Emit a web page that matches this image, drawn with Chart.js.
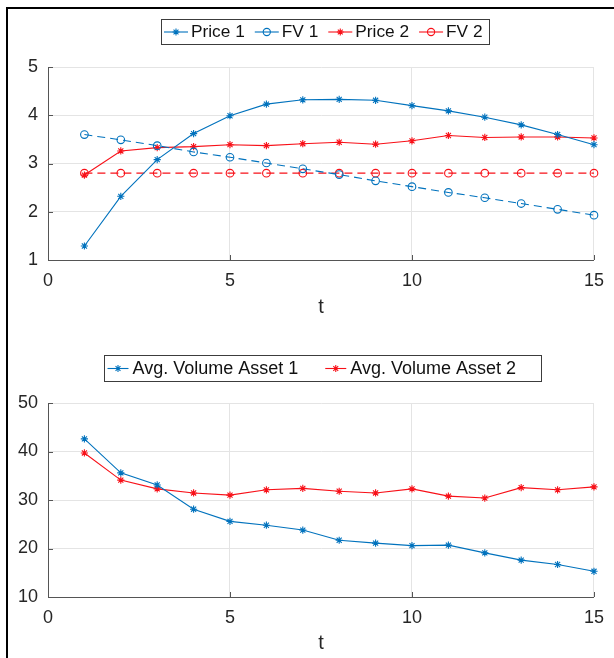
<!DOCTYPE html>
<html><head><meta charset="utf-8">
<script src="https://cdn.jsdelivr.net/npm/chart.js@4.4.1/dist/chart.umd.min.js"></script>
<style>
html,body{margin:0;padding:0;background:#fff;}
body{width:614px;height:658px;position:relative;overflow:hidden;}
#frame{position:absolute;left:6px;top:7px;width:700px;height:700px;border-left:2px solid #000;border-top:2px solid #000;pointer-events:none;}
.wrap{position:absolute;left:0;width:614px;}
#w1{top:0;height:330px;}
#w2{top:330px;height:328px;}
canvas{display:block;}
</style></head><body>
<div class="wrap" id="w1"><canvas id="c1" width="614" height="330"></canvas></div>
<div class="wrap" id="w2"><canvas id="c2" width="614" height="328"></canvas></div>
<div id="frame"></div>
<script>
// ---- data ----
const t = [1,2,3,4,5,6,7,8,9,10,11,12,13,14,15];
const price1 = [1.29,2.32,3.08,3.62,3.99,4.23,4.32,4.33,4.31,4.20,4.09,3.96,3.80,3.60,3.39];
const fv1    = [3.60,3.49,3.37,3.24,3.13,3.01,2.89,2.77,2.64,2.52,2.40,2.29,2.17,2.05,1.93];
const price2 = [2.76,3.26,3.33,3.35,3.39,3.37,3.41,3.44,3.40,3.47,3.58,3.54,3.55,3.55,3.53];
const fv2    = [2.80,2.80,2.80,2.80,2.80,2.80,2.80,2.80,2.80,2.80,2.80,2.80,2.80,2.80,2.80];
const vol1   = [42.6,35.6,33.1,28.1,25.6,24.8,23.8,21.7,21.1,20.6,20.7,19.1,17.6,16.7,15.3];
const vol2   = [39.7,34.1,32.3,31.45,31.0,32.1,32.4,31.8,31.45,32.3,30.8,30.4,32.55,32.1,32.7];
const xTicks = [0,5,10,15];
const yTicksTop = [1,2,3,4,5];
const yTicksBottom = [10,20,30,40,50];
const labelsTop = ['Price 1','FV 1','Price 2','FV 2'];
const labelsBottom = ['Avg. Volume Asset 1','Avg. Volume Asset 2'];
const xLabel = 't';

// ---- styles ----
const FONT = "'Liberation Sans', Arial, Helvetica, sans-serif";
const BLUE = '#0072BD';
const RED = '#F81018';
const TXT = '#262626';
const GRID = '#e4e4e4';
const AXIS = '#555555';

const pts = (ys) => t.map((x,i)=>({x:x,y:ys[i]}));

function ds(label, ys, color, kind){
  const star = kind === 'star';
  return {
    label, data: pts(ys), borderColor: color, backgroundColor: color,
    borderWidth: 1.1, tension: 0, clip: false,
    borderDash: star ? [] : [8,5],
    pointStyle: star ? 'star' : 'circle',
    pointRadius: star ? 3.6 : 3.8,
    pointHoverRadius: star ? 3.6 : 3.8,
    pointBorderWidth: 1.1,
    pointBorderColor: color,
    pointBackgroundColor: star ? color : 'rgba(0,0,0,0)',
    markerKind: kind
  };
}

// legend drawn in MATLAB style (line + marker, boxed)
const mlLegend = {
  id: 'mlLegend',
  afterDraw(chart, args, o){
    const ctx = chart.ctx;
    ctx.save();
    ctx.font = o.fontSize + 'px ' + FONT;
    ctx.textBaseline = 'middle';
    ctx.textAlign = 'left';
    const dss = chart.data.datasets;
    const widths = dss.map(d => ctx.measureText(d.label).width);
    let total = o.padLeft + o.padRight;
    widths.forEach((w,i)=>{ total += o.iconLen + o.gap + w + (i < widths.length-1 ? o.spacing : 0); });
    const top = o.top, h = o.height, left = o.left;
    ctx.fillStyle = '#fff';
    ctx.fillRect(left, top, total, h);
    ctx.strokeStyle = '#3c3c3c';
    ctx.lineWidth = 1;
    ctx.strokeRect(Math.round(left)+0.5, Math.round(top)+0.5, Math.round(total), Math.round(h));
    const cy = top + h/2 + 0.5;
    let x = left + o.padLeft;
    dss.forEach((d,i)=>{
      ctx.strokeStyle = d.borderColor;
      ctx.lineWidth = 1.1;
      ctx.setLineDash([]);
      ctx.beginPath();
      ctx.moveTo(x, cy); ctx.lineTo(x + o.iconLen, cy); ctx.stroke();
      const mx = x + o.iconLen/2;
      ctx.beginPath();
      if (d.markerKind === 'star'){
        const r = 3.4, r2 = r*0.72;
        ctx.moveTo(mx-r,cy); ctx.lineTo(mx+r,cy);
        ctx.moveTo(mx,cy-r); ctx.lineTo(mx,cy+r);
        ctx.moveTo(mx-r2,cy-r2); ctx.lineTo(mx+r2,cy+r2);
        ctx.moveTo(mx-r2,cy+r2); ctx.lineTo(mx+r2,cy-r2);
        ctx.stroke();
      } else {
        ctx.arc(mx, cy, 3.6, 0, Math.PI*2);
        ctx.fillStyle = '#fff'; ctx.fill();
        ctx.stroke();
        ctx.beginPath(); ctx.moveTo(mx-3.6,cy); ctx.lineTo(mx+3.6,cy); ctx.stroke();
      }
      ctx.fillStyle = '#111';
      ctx.fillText(d.label, x + o.iconLen + o.gap, top + h/2 + 1);
      x += o.iconLen + o.gap + widths[i] + o.spacing;
    });
    ctx.restore();
  }
};

// inward tick marks (MATLAB style)
const inTicks = {
  id: 'inTicks',
  beforeDatasetsDraw(chart){
    const ctx = chart.ctx, a = chart.chartArea, xs = chart.scales.x, ys = chart.scales.y;
    ctx.save();
    ctx.strokeStyle = AXIS; ctx.lineWidth = 1;
    ctx.beginPath();
    xs.ticks.forEach(tk => { const p = Math.round(xs.getPixelForValue(tk.value)) + 0.5; ctx.moveTo(p, a.bottom); ctx.lineTo(p, a.bottom - 5); });
    ys.ticks.forEach(tk => { const p = Math.round(ys.getPixelForValue(tk.value)) + 0.5; ctx.moveTo(a.left, p); ctx.lineTo(a.left + 5, p); });
    ctx.stroke();
    ctx.restore();
  }
};

function makeChart(id, datasets, yTicks, geo, legend){
  return new Chart(document.getElementById(id), {
    type: 'line',
    data: { datasets },
    plugins: [inTicks, mlLegend],
    options: {
      responsive: false, animation: false, devicePixelRatio: 1,
      layout: { padding: { top: geo.top, right: 14, bottom: 0, left: 0 } },
      plugins: { legend: { display: false }, tooltip: { enabled: false }, mlLegend: legend },
      scales: {
        x: {
          type: 'linear', min: xTicks[0], max: xTicks[xTicks.length-1],
          afterBuildTicks: s => { s.ticks = xTicks.map(v => ({ value: v })); },
          ticks: { font: { family: FONT, size: 18 }, color: TXT, padding: 10, maxRotation: 0 },
          grid: { color: GRID, lineWidth: 1, drawTicks: false },
          border: { color: AXIS, width: 1 },
          title: { display: true, text: xLabel, font: { family: FONT, size: 20 }, color: TXT, padding: { top: 0, bottom: geo.titlePad } },
          afterFit: s => { s.height = geo.xh; }
        },
        y: {
          type: 'linear', min: yTicks[0], max: yTicks[yTicks.length-1],
          afterBuildTicks: s => { s.ticks = yTicks.map(v => ({ value: v })); },
          ticks: { font: { family: FONT, size: 18 }, color: TXT, padding: 10 },
          grid: { color: GRID, lineWidth: 1, drawTicks: false },
          border: { color: AXIS, width: 1 },
          afterFit: s => { s.width = 48; }
        }
      }
    }
  });
}

makeChart('c1', [
  ds(labelsTop[0], price1, BLUE, 'star'),
  ds(labelsTop[1], fv1, BLUE, 'circle'),
  ds(labelsTop[2], price2, RED, 'star'),
  ds(labelsTop[3], fv2, RED, 'circle')
], yTicksTop, { top: 67, xh: 70, titlePad: 11 },
{ left: 161, top: 19, height: 25, fontSize: 17.3, padLeft: 3, iconLen: 24, gap: 3, spacing: 10, padRight: 6 });

makeChart('c2', [
  ds(labelsBottom[0], vol1, BLUE, 'star'),
  ds(labelsBottom[1], vol2, RED, 'star')
], yTicksBottom, { top: 73, xh: 61, titlePad: 3 },
{ left: 104, top: 25, height: 26, fontSize: 18, padLeft: 3.5, iconLen: 21, gap: 4, spacing: 27, padRight: 25 });
</script>
</body></html>
